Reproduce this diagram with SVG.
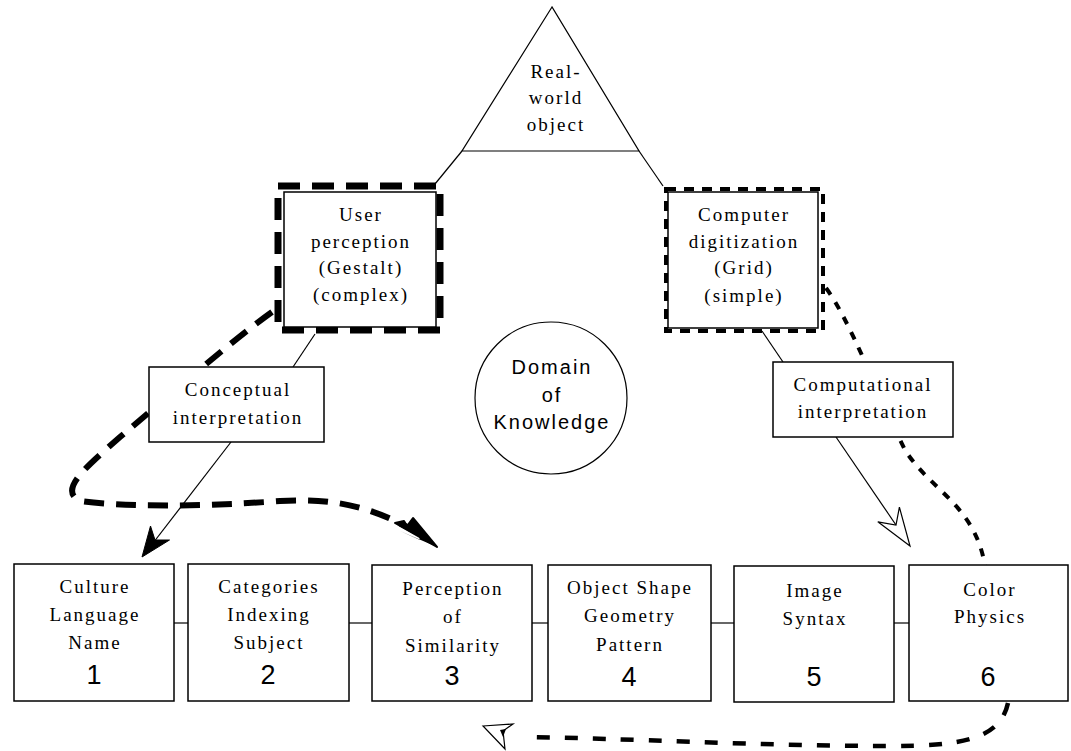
<svg xmlns="http://www.w3.org/2000/svg" width="1071" height="751" viewBox="0 0 1071 751">
<style>
.box{fill:#fff;stroke:#000;stroke-width:1.5}
.t{font-family:"Liberation Serif","Times New Roman",serif;font-size:19px;letter-spacing:2px;text-anchor:middle;fill:#000}
.s{font-family:"Liberation Sans",Arial,sans-serif;font-size:20px;letter-spacing:2px;text-anchor:middle;fill:#000}
.n{font-family:"Liberation Sans",Arial,sans-serif;font-size:27px;text-anchor:middle;fill:#000}
.ln{stroke:#000;stroke-width:1.2;fill:none}
</style>
<rect width="1071" height="751" fill="#fff"/>
<g id="connectors">
  <line class="ln" x1="462" y1="151" x2="435" y2="184"/>
  <line class="ln" x1="639" y1="151" x2="663" y2="186"/>
  <line class="ln" x1="315" y1="334" x2="293" y2="367"/>
  <line class="ln" x1="231" y1="442" x2="150" y2="547"/>
  <polygon points="142,557 150.5,526 155,540 169.5,540" fill="#000" stroke="#000" stroke-width="1"/>
  <line class="ln" x1="762" y1="331" x2="783" y2="362"/>
  <line class="ln" x1="836" y1="437" x2="896" y2="525"/>
  <polygon points="910,546 877.8,521.8 896,525 899.4,507.2" fill="#fff" stroke="#000" stroke-width="1.2"/>
  <line class="ln" x1="174" y1="623" x2="188" y2="623"/>
  <line class="ln" x1="349" y1="623" x2="372" y2="623"/>
  <line class="ln" x1="532" y1="623" x2="548" y2="623"/>
  <line class="ln" x1="711" y1="623" x2="734" y2="623"/>
  <line class="ln" x1="894" y1="623" x2="909" y2="623"/>
  <path d="M272,312 C230,342 170,395 120,437 C85,468 58,490 80,501 C120,507 200,507 280,501 C330,498 370,505 416,532" fill="none" stroke="#000" stroke-width="6" stroke-dasharray="20 12"/>
  <polygon points="437,547 395,523 404,521 407,526 413,518" fill="#000" stroke="#000" stroke-width="2" stroke-linejoin="round"/>
  <polygon points="437,547 413,518 420,540 400,531" fill="#000"/>
  <path d="M826,288 C850,320 880,400 905,450 C930,490 975,505 985,566" fill="none" stroke="#000" stroke-width="4" stroke-dasharray="8 9"/>
  <path d="M1008,703 C1000,740 960,746 890,746 C760,746 620,738 522,737" fill="none" stroke="#000" stroke-width="4.5" stroke-dasharray="13 15"/>
  <polygon points="483,726 513,724 503,731 505,749" fill="#fff" stroke="#000" stroke-width="1.2"/>
  <polygon points="500,730 506,729 503,737" fill="#000"/>
</g>
<g id="real-world-object">
  <polygon points="552,7 462,151 639,151" fill="#fff" stroke="#000" stroke-width="1.2"/>
  <text class="t" x="556" y="78">Real-</text>
  <text class="t" x="556" y="104">world</text>
  <text class="t" x="556" y="131">object</text>
</g>
<g id="user-perception">
  <rect x="278" y="186" width="162" height="144" fill="none" stroke="#000" stroke-width="7" stroke-dasharray="22 12"/>
  <rect class="box" x="284" y="192" width="152" height="135"/>
  <text class="t" x="361" y="221">User</text>
  <text class="t" x="361" y="248">perception</text>
  <text class="t" x="361" y="274">(Gestalt)</text>
  <text class="t" x="361" y="301">(complex)</text>
</g>
<g id="computer-digitization">
  <rect x="666" y="189" width="157" height="142" fill="none" stroke="#000" stroke-width="4" stroke-dasharray="10 8"/>
  <rect class="box" x="668" y="192" width="150" height="136"/>
  <text class="t" x="744" y="221">Computer</text>
  <text class="t" x="744" y="248">digitization</text>
  <text class="t" x="744" y="274">(Grid)</text>
  <text class="t" x="744" y="302">(simple)</text>
</g>
<g id="conceptual-interpretation">
  <rect class="box" x="149" y="367" width="175" height="75"/>
  <text class="t" x="238" y="396">Conceptual</text>
  <text class="t" x="238" y="424">interpretation</text>
</g>
<g id="computational-interpretation">
  <rect class="box" x="773" y="362" width="180" height="75"/>
  <text class="t" x="863" y="391">Computational</text>
  <text class="t" x="863" y="418">interpretation</text>
</g>
<g id="domain-of-knowledge">
  <circle cx="551" cy="398" r="76" fill="#fff" stroke="#000" stroke-width="1.2"/>
  <text class="s" x="552" y="374">Domain</text>
  <text class="s" x="552" y="402">of</text>
  <text class="s" x="552" y="429">Knowledge</text>
</g>
<g id="box1">
  <rect class="box" x="14" y="564" width="160" height="137"/>
  <text class="t" x="95" y="593">Culture</text>
  <text class="t" x="95" y="621">Language</text>
  <text class="t" x="95" y="649">Name</text>
  <text class="n" x="94" y="684">1</text>
</g>
<g id="box2">
  <rect class="box" x="188" y="564" width="161" height="137"/>
  <text class="t" x="269" y="593">Categories</text>
  <text class="t" x="269" y="621">Indexing</text>
  <text class="t" x="269" y="649">Subject</text>
  <text class="n" x="268" y="684">2</text>
</g>
<g id="box3">
  <rect class="box" x="372" y="565" width="160" height="136"/>
  <text class="t" x="453" y="595">Perception</text>
  <text class="t" x="453" y="623">of</text>
  <text class="t" x="453" y="652">Similarity</text>
  <text class="n" x="452" y="685">3</text>
</g>
<g id="box4">
  <rect class="box" x="548" y="565" width="163" height="136"/>
  <text class="t" x="630" y="594">Object Shape</text>
  <text class="t" x="630" y="622">Geometry</text>
  <text class="t" x="630" y="651">Pattern</text>
  <text class="n" x="629" y="686">4</text>
</g>
<g id="box5">
  <rect class="box" x="734" y="566" width="160" height="136"/>
  <text class="t" x="815" y="597">Image</text>
  <text class="t" x="815" y="625">Syntax</text>
  <text class="n" x="814" y="686">5</text>
</g>
<g id="box6">
  <rect class="box" x="909" y="565" width="159" height="136"/>
  <text class="t" x="990" y="596">Color</text>
  <text class="t" x="990" y="623">Physics</text>
  <text class="n" x="988" y="686">6</text>
</g>
</svg>
